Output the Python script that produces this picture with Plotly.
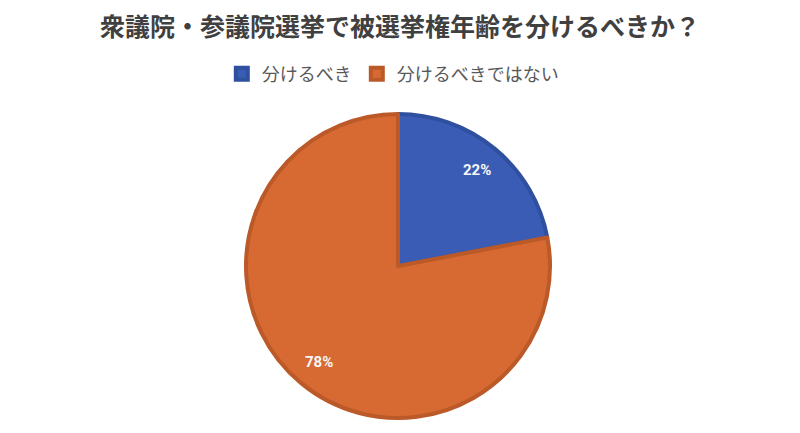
import math
import plotly.graph_objects as go

labels = ["分けるべき", "分けるべきではない"]
values = [22, 78]
colors = ["#3a5cb4", "#d66a32"]
border_colors = ["#2f4f9f", "#bb5a28"]

title_text = "衆議院・参議院選挙で被選挙権年齢を分けるべきか？"

W, H = 800, 433
T, B = 106, 23
dom_x = [0.2975, 0.6775]

fig = go.Figure(go.Pie(
    labels=labels,
    values=values,
    sort=False,
    direction="clockwise",
    rotation=0,
    marker=dict(colors=colors, line=dict(color=border_colors, width=4)),
    textinfo="none",
    hoverinfo="label+percent",
    domain=dict(x=dom_x, y=[0, 1]),
))

# percentage labels placed along each slice's mid-angle
cx = (dom_x[0] + dom_x[1]) / 2
plot_h = H - T - B
r_px = min((dom_x[1] - dom_x[0]) * W, plot_h) / 2
total = sum(values)
cum = 0
for v in values:
    mid = (cum + v / 2) / total * 2 * math.pi
    cum += v
    dx = 0.82 * r_px * math.sin(mid)
    dy = 0.82 * r_px * math.cos(mid)
    fig.add_annotation(
        x=cx + dx / W, y=0.5 + dy / plot_h,
        xref="paper", yref="paper",
        xanchor="center", yanchor="middle",
        text="<b>%d%%</b>" % round(v / total * 100),
        showarrow=False,
        font=dict(family="Roboto, sans-serif", size=15, color="#f7f7f7"),
    )

fig.update_layout(
    width=W, height=H,
    paper_bgcolor="white",
    plot_bgcolor="white",
    margin=dict(l=0, r=0, t=T, b=B),
    title=dict(
        text="<b>" + title_text + "</b>",
        x=0.49, xanchor="center",
        yref="container", y=1 - 19 / H, yanchor="middle",
        font=dict(family="Noto Sans CJK JP", size=25, color="#404040"),
    ),
    legend=dict(
        orientation="h",
        x=0.481, xanchor="center",
        yref="container", y=1 - 66 / H, yanchor="middle",
        font=dict(family="Noto Sans CJK JP", size=18, color="#595959"),
        traceorder="normal",
        itemwidth=30,
    ),
)

fig.write_html("out.html")
